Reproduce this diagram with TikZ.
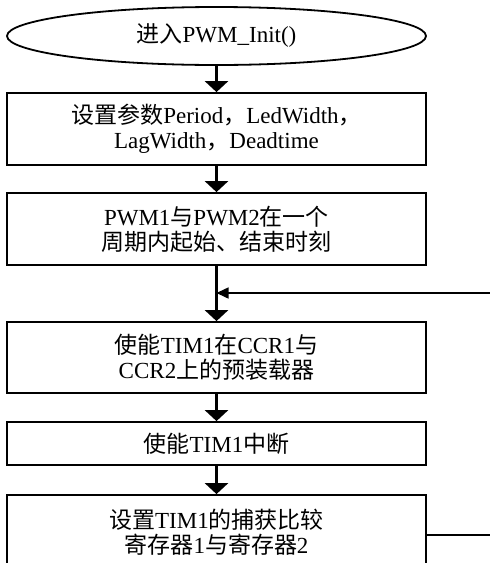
\documentclass[tikz,border=0pt]{standalone}
\usepackage{fontspec}
\setmainfont{Liberation Serif}
\newfontfamily\zhfont{Noto Sans CJK SC}
\newcommand{\zh}[1]{{\zhfont #1}}
\usetikzlibrary{arrows.meta,shapes.geometric}
\tikzset{every picture/.style={line width=0.75pt}}
\tikzset{
  stepbox/.style={draw, line width=1.8pt, minimum width=419, inner sep=0pt, align=center, font=\fontsize{23}{25}\selectfont},
  startnode/.style={stepbox, ellipse, minimum height=58},
  flowarrow/.style={line width=3pt, -{Triangle[width=23pt,length=11pt]}},
  backarrow/.style={line width=1.5pt, -{Triangle[width=11pt,length=12pt]}},
  backline/.style={line width=1.5pt}
}

\begin{document}
\begin{tikzpicture}[x=1pt,y=1pt,yscale=-1,xscale=1]
\clip (0,0) rectangle (490,563);
\node [startnode] (init) at (216.5,36) {\zh{进入}PWM\_Init()};
\node [stepbox, minimum height=72] (setpar) at (216.5,129) {\zh{设置参数}Period\zh{，}LedWidth\zh{，}\\LagWidth\zh{，}Deadtime};
\node [stepbox, minimum height=72] (edges) at (216.5,229) {PWM1\zh{与}PWM2\zh{在一个}\\\zh{周期内起始、结束时刻}};
\node [stepbox, minimum height=71] (preload) at (216.5,357.5) {\zh{使能}TIM1\zh{在}CCR1\zh{与}\\CCR2\zh{上的预装载器}};
\node [stepbox, minimum height=43] (intr) at (216.5,443.5) {\zh{使能}TIM1\zh{中断}};
\node [stepbox, minimum height=74] (ccr) at (216.5,532) {\zh{设置}TIM1\zh{的捕获比较}\\\zh{寄存器}1\zh{与寄存器}2};
\coordinate (fbin) at (490,293);
\coordinate (fbout) at (490,535);
% main flow
\draw [flowarrow] (init) -- (setpar);
\draw [flowarrow] (setpar) -- (edges);
\draw [flowarrow] (edges) -- (preload);
\draw [flowarrow] (preload) -- (intr);
\draw [flowarrow] (intr) -- (ccr);
% loop back
\draw [backarrow] (fbin) -- (fbin -| edges.south);
\draw [backline] (fbout -| ccr.east) -- (fbout);
\end{tikzpicture}
\end{document}
